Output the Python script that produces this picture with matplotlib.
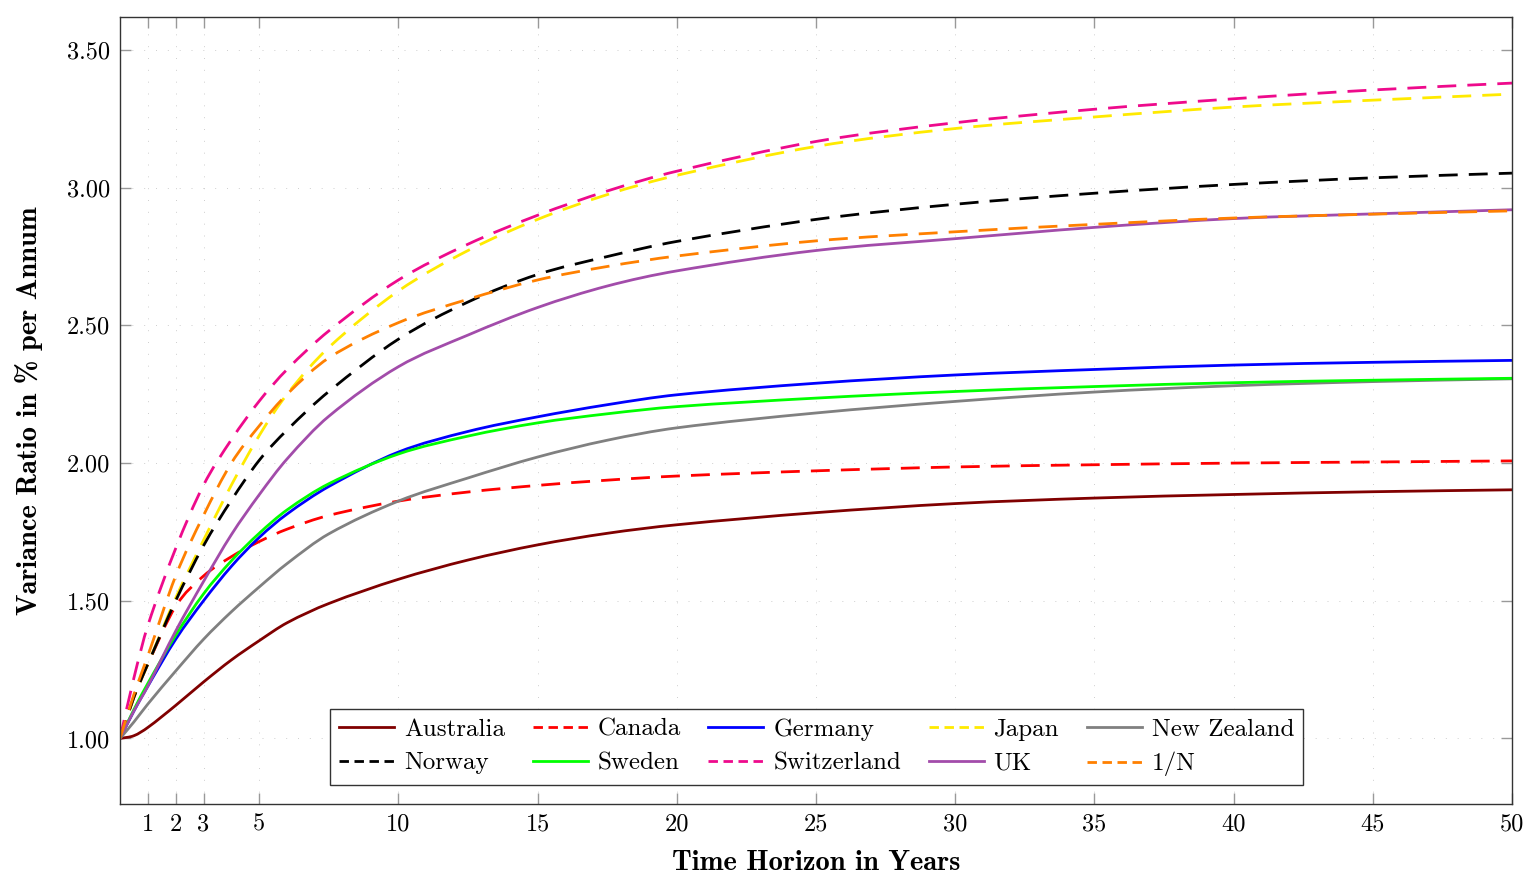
import matplotlib
matplotlib.use("Agg")
import matplotlib.pyplot as plt
from matplotlib.path import Path
from matplotlib.patches import PathPatch
from matplotlib.lines import Line2D

horizon = [0, 0.5, 1, 2, 3, 4, 5, 6, 7.5, 10, 12.5, 15, 17.5, 20, 25, 30, 35, 40, 45, 50]

australia = [1.00, 1.01, 1.04, 1.12, 1.205, 1.285, 1.355, 1.42, 1.49, 1.578, 1.648, 1.703, 1.745, 1.776, 1.82, 1.853, 1.873, 1.886, 1.896, 1.903]
canada = [1.00, 1.15, 1.27, 1.48, 1.59, 1.66, 1.715, 1.76, 1.81, 1.862, 1.895, 1.919, 1.938, 1.953, 1.972, 1.986, 1.994, 2.000, 2.004, 2.008]
germany = [1.00, 1.10, 1.19, 1.36, 1.50, 1.625, 1.73, 1.815, 1.915, 2.04, 2.115, 2.168, 2.212, 2.248, 2.29, 2.32, 2.34, 2.356, 2.366, 2.373]
japan = [1.00, 1.15, 1.27, 1.51, 1.72, 1.92, 2.10, 2.25, 2.42, 2.625, 2.772, 2.885, 2.975, 3.045, 3.15, 3.215, 3.257, 3.293, 3.318, 3.34]
new_zealand = [1.00, 1.06, 1.125, 1.245, 1.36, 1.46, 1.55, 1.635, 1.743, 1.862, 1.946, 2.022, 2.083, 2.128, 2.182, 2.224, 2.258, 2.281, 2.296, 2.306]
norway = [1.00, 1.15, 1.27, 1.50, 1.70, 1.865, 2.01, 2.12, 2.26, 2.45, 2.585, 2.685, 2.75, 2.805, 2.885, 2.94, 2.98, 3.012, 3.036, 3.053]
sweden = [1.00, 1.105, 1.20, 1.375, 1.525, 1.645, 1.745, 1.83, 1.925, 2.033, 2.098, 2.146, 2.179, 2.205, 2.236, 2.26, 2.278, 2.292, 2.301, 2.308]
switzerland = [1.00, 1.22, 1.41, 1.69, 1.92, 2.085, 2.225, 2.34, 2.48, 2.665, 2.795, 2.90, 2.988, 3.06, 3.168, 3.236, 3.285, 3.323, 3.355, 3.38]
uk = [1.00, 1.10, 1.19, 1.39, 1.57, 1.74, 1.885, 2.015, 2.17, 2.35, 2.465, 2.565, 2.643, 2.698, 2.772, 2.815, 2.856, 2.888, 2.905, 2.92]
one_over_n = [1.00, 1.16, 1.30, 1.59, 1.81, 2.00, 2.135, 2.25, 2.382, 2.51, 2.595, 2.665, 2.714, 2.752, 2.807, 2.84, 2.867, 2.89, 2.904, 2.916]

x_ticks = [1, 2, 3, 5, 10, 15, 20, 25, 30, 35, 40, 45, 50]
y_ticks = [1.0, 1.5, 2.0, 2.5, 3.0, 3.5]

plt.rcParams['axes.formatter.use_mathtext'] = True
plt.rcParams['mathtext.fontset'] = 'cm'

DASH = (3.4, 2.0)
LW = 2.0


def smooth_path(xs, ys):
    # cubic bezier through the read points (like pgfplots "smooth")
    n = len(xs)
    slopes = []
    for i in range(n):
        if i == 0:
            slopes.append((ys[1] - ys[0]) / (xs[1] - xs[0]))
        elif i == n - 1:
            slopes.append((ys[-1] - ys[-2]) / (xs[-1] - xs[-2]))
        else:
            slopes.append((ys[i + 1] - ys[i - 1]) / (xs[i + 1] - xs[i - 1]))
    verts = [(xs[0], ys[0])]
    codes = [Path.MOVETO]
    for i in range(n - 1):
        h = xs[i + 1] - xs[i]
        verts += [(xs[i] + h / 3, ys[i] + slopes[i] * h / 3),
                  (xs[i + 1] - h / 3, ys[i + 1] - slopes[i + 1] * h / 3),
                  (xs[i + 1], ys[i + 1])]
        codes += [Path.CURVE4] * 3
    return Path(verts, codes)


def draw(ax, ys, color, dashed):
    ls = (0, (DASH[0] * LW, DASH[1] * LW)) if dashed else '-'
    patch = PathPatch(smooth_path(horizon, ys), facecolor='none', edgecolor=color,
                      linewidth=LW, linestyle=ls, capstyle='butt', joinstyle='round')
    ax.add_patch(patch)
    if dashed:
        return Line2D([], [], color=color, linewidth=LW, dashes=DASH)
    return Line2D([], [], color=color, linewidth=LW)


fig = plt.figure(figsize=(15.27, 8.76), dpi=100)
ax = fig.add_axes([120 / 1527, 1 - 804 / 876, 1392 / 1527, 787 / 876])

lines = {}
lines['Australia'] = draw(ax, australia, '#800000', False)
lines['Canada'] = draw(ax, canada, '#ff0000', True)
lines['Germany'] = draw(ax, germany, '#0000ff', False)
lines['Japan'] = draw(ax, japan, '#ffea00', True)
lines['New Zealand'] = draw(ax, new_zealand, '#808080', False)
lines['Norway'] = draw(ax, norway, 'black', True)
lines['Sweden'] = draw(ax, sweden, '#00ff00', False)
lines['Switzerland'] = draw(ax, switzerland, '#ee0a8c', True)
lines['UK'] = draw(ax, uk, '#a24caa', False)
lines['1/N'] = draw(ax, one_over_n, '#ff8000', True)

ax.set_xlim(0, 50)
ax.set_ylim(0.762, 3.62)
ax.set_xticks(x_ticks)
ax.set_xticklabels([str(t) for t in x_ticks])
ax.set_yticks(y_ticks)
ax.set_yticklabels(['{:.2f}'.format(t) for t in y_ticks])

ax.grid(True, color='#c8c8c8', linewidth=0.6, linestyle=(0, (1.2, 13)))
ax.set_axisbelow(True)
ax.tick_params(direction='in', top=True, right=True, length=8, width=1.0,
               color='#999999', labelsize=17.5, pad=7)
for lab in ax.get_xticklabels() + ax.get_yticklabels():
    lab.set_fontfamily('cmr10')
for sp in ax.spines.values():
    sp.set_linewidth(1.0)
    sp.set_color('#333333')

ax.set_xlabel('Time Horizon in Years', fontfamily='cmb10', fontsize=20.5, labelpad=10)
ax.set_ylabel('Variance Ratio in % per Annum', fontfamily='cmb10', fontsize=20.5, labelpad=17)

# matplotlib fills legend column-wise, so interleave the two rows
row1 = ['Australia', 'Canada', 'Germany', 'Japan', 'New Zealand']
row2 = ['Norway', 'Sweden', 'Switzerland', 'UK', '1/N']
order = []
for a, b in zip(row1, row2):
    order += [a, b]
leg = ax.legend([lines[k] for k in order], order, ncol=5, loc='lower center',
                bbox_to_anchor=(0.5004, 0.024), borderaxespad=0, fancybox=False,
                framealpha=1, edgecolor='#333333', prop={'family': 'cmr10', 'size': 18},
                handlelength=2.2, columnspacing=1.1, handletextpad=0.4,
                borderpad=0.35, labelspacing=0.45)
leg.get_frame().set_linewidth(1.0)

fig.savefig('out.png', dpi=100)
